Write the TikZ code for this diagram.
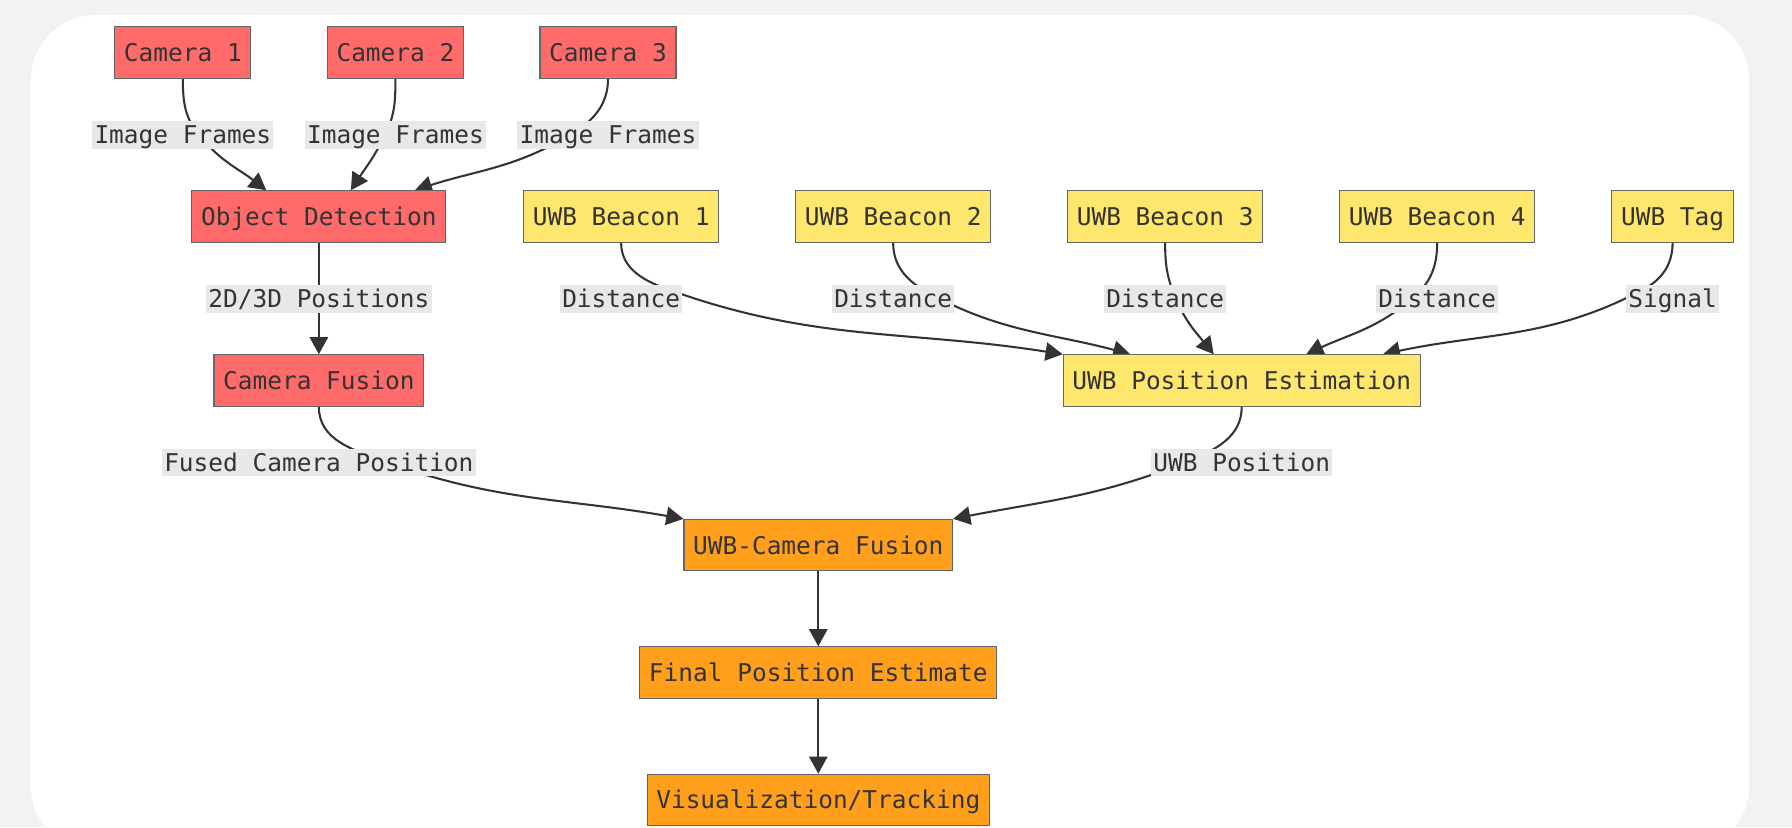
\documentclass[tikz,border=0pt]{standalone}
\usepackage{fontspec}
\setmonofont{DejaVu Sans Mono}
\usetikzlibrary{arrows.meta,calc}
\definecolor{bgc}{HTML}{F2F2F2}
\definecolor{redf}{HTML}{FF6B6B}
\definecolor{yelf}{HTML}{FFE66D}
\definecolor{orgf}{HTML}{FF9F1C}
\definecolor{bordc}{HTML}{666666}
\definecolor{txtc}{HTML}{333333}
\definecolor{lblf}{HTML}{E8E8E8}
\definecolor{edgec}{HTML}{333333}
\pgfdeclarelayer{bglayer}
\pgfdeclarelayer{edgelayer}
\pgfsetlayers{bglayer,edgelayer,main}
\tikzset{
  box/.style={draw=bordc, line width=0.5pt, text=txtc, inner xsep=4pt, inner ysep=0pt,
    text height=7.8pt, text depth=0pt,
    minimum height=22.5pt, font=\ttfamily\fontsize{10.7}{12.8}\selectfont},
  redbox/.style={box, fill=redf},
  yelbox/.style={box, fill=yelf},
  orgbox/.style={box, fill=orgf},
  lbl/.style={fill=lblf, text=txtc, inner xsep=1pt, inner ysep=0pt, minimum height=12pt,
    text height=7.8pt, text depth=0pt,
    font=\ttfamily\fontsize{10.7}{12.8}\selectfont},
  conn/.style={draw=edgec, line width=0.9pt},
  arr/.style={conn, -{Triangle[length=7.5pt,width=8pt]}},
}
\begin{document}
\begin{tikzpicture}[x=0.5pt,y=0.5pt]
\useasboundingbox (0,0) rectangle (1568,-724);
\begin{pgfonlayer}{bglayer}
  \fill[bgc] (0,0) rectangle (1568,-724);
  \fill[white, rounded corners=28.5pt] (27,-13) rectangle (1530.5,-745);
\end{pgfonlayer}

% nodes
\node[redbox] (cam1) at (160,-46) {Camera 1};
\node[redbox] (cam2) at (346,-46) {Camera 2};
\node[redbox] (cam3) at (532,-46) {Camera 3};
\node[redbox] (od) at (279,-189.5) {Object Detection};
\node[redbox] (cf) at (279,-333) {Camera Fusion};
\node[yelbox] (b1) at (543.5,-189.5) {UWB Beacon 1};
\node[yelbox] (b2) at (781.5,-189.5) {UWB Beacon 2};
\node[yelbox] (b3) at (1019.5,-189.5) {UWB Beacon 3};
\node[yelbox] (b4) at (1257.5,-189.5) {UWB Beacon 4};
\node[yelbox] (tag) at (1463.5,-189.5) {UWB Tag};
\node[yelbox] (upe) at (1086.5,-333) {UWB Position Estimation};
\node[orgbox] (ucf) at (716,-477) {UWB-Camera Fusion};
\node[orgbox] (fpe) at (716,-588.5) {Final Position Estimate};
\node[orgbox] (vt) at (716,-700) {Visualization/Tracking};

% labels
\node[lbl] (l1) at (160,-118) {Image Frames};
\node[lbl] (l2) at (346,-118) {Image Frames};
\node[lbl] (l3) at (532,-118) {Image Frames};
\node[lbl] (l4) at (279,-261.5) {2D/3D Positions};
\node[lbl] (ld1) at (543.5,-261.5) {Distance};
\node[lbl] (ld2) at (781.5,-261.5) {Distance};
\node[lbl] (ld3) at (1019.5,-261.5) {Distance};
\node[lbl] (ld4) at (1257.5,-261.5) {Distance};
\node[lbl] (ls) at (1463.5,-261.5) {Signal};
\node[lbl] (lf) at (279,-404.5) {Fused Camera Position};
\node[lbl] (lu) at (1086.5,-404.5) {UWB Position};

% waypoints
\coordinate (w1) at ($(l1.center)+(14,0)$);
\coordinate (w2) at ($(l2.center)+(-9,0)$);
\coordinate (w3) at ($(l3.center)+(-33,0)$);
\coordinate (wd1) at ($(ld1.center)+(39,9)$);
\coordinate (wd2) at ($(ld2.center)+(33,4)$);
\coordinate (wd3) at ($(ld3.center)+(9,1)$);
\coordinate (wd4) at ($(ld4.center)+(-21,1)$);
\coordinate (ws) at ($(ls.center)+(-26,8)$);
\coordinate (wf) at ($(lf.center)+(57,1)$);
\coordinate (wu) at ($(lu.center)+(-47,1)$);

\begin{pgfonlayer}{edgelayer}
  \draw[arr] (cam1.south) to[out=-90,in=129] (w1) to[out=-51,in=142] ($(od.north)+(-46,0)$);
  \draw[arr] (cam2.south) to[out=-90,in=64] (w2) to[out=-116,in=57] ($(od.north)+(28,0)$);
  \draw[arr] (cam3.south) to[out=-90,in=31] (w3) to[out=-149,in=18] ($(od.north)+(84,0)$);
  \draw[arr] (od.south) -- (l4) -- (cf.north);
  \draw[arr] (b1.south) to[out=-90,in=160] (wd1) to[out=-20,in=171] (upe.north west);
  \draw[arr] (b2.south) to[out=-90,in=152] (wd2) to[out=-28,in=165] ($(upe.north)+(-97.5,0)$);
  \draw[arr] (b3.south) to[out=-90,in=113] (wd3) to[out=-67,in=129] ($(upe.north)+(-24.5,0)$);
  \draw[arr] (b4.south) to[out=-90,in=41] (wd4) to[out=-139,in=25] ($(upe.north)+(56.5,0)$);
  \draw[arr] (tag.south) to[out=-90,in=28] (ws) to[out=-152,in=12] ($(upe.north)+(123.5,0)$);
  \draw[arr] (cf.south) to[out=-90,in=160] (wf) to[out=-20,in=170] (ucf.north west);
  \draw[arr] (upe.south) to[out=-90,in=22] (wu) to[out=-158,in=11] (ucf.north east);
  \draw[arr] (ucf.south) -- (fpe.north);
  \draw[arr] (fpe.south) -- (vt.north);
\end{pgfonlayer}
\end{tikzpicture}
\end{document}
